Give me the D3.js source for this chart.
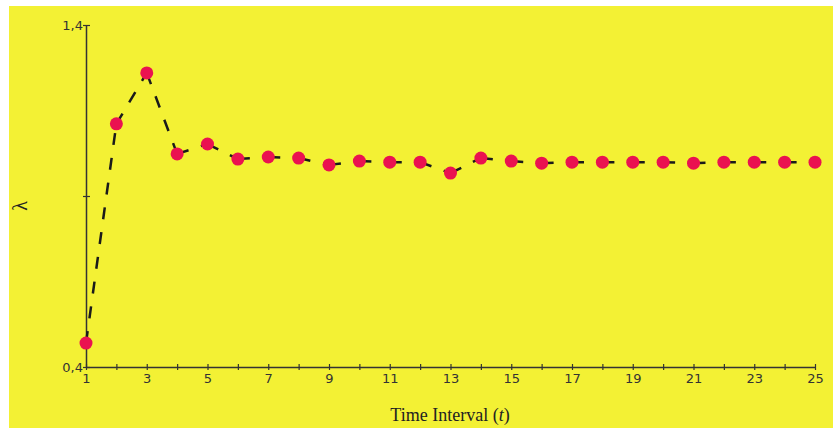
<!DOCTYPE html>
<html>
<head>
<meta charset="utf-8">
<script src="https://cdn.jsdelivr.net/npm/d3@7"></script>
<style>
  body { margin: 0; background: #fff; }
</style>
</head>
<body>
<div id="chart"></div>
<script>
// time intervals and lambda values
const intervals = d3.range(1, 26);
const lambda = [0.470, 1.111, 1.260, 1.023, 1.052, 1.008, 1.014, 1.011, 0.991, 1.002,
  0.999, 0.999, 0.967, 1.011, 1.002, 0.996, 0.999, 0.999, 0.999, 0.999,
  0.996, 0.999, 0.999, 0.999, 0.999];
const yTicks = [0.4, 0.9, 1.4];
const yTickLabels = { 0.4: "0,4", 1.4: "1,4" };
const xLabelTicks = d3.range(1, 26, 2);

const width = 833, height = 428;
const margin = { left: 86, right: 18, top: 25, bottom: 61 };

const svg = d3.select("#chart").append("svg")
  .attr("width", width).attr("height", height);

// yellow panel
svg.append("rect").attr("x", 9).attr("y", 6)
  .attr("width", width - 9).attr("height", height - 6)
  .attr("fill", "#f3f134");

const x = d3.scaleLinear().domain([1, 25]).range([margin.left, width - margin.right]);
const y = d3.scaleLinear().domain([0.4, 1.4]).range([height - margin.bottom, margin.top]);

const axisColor = "#333";
const tickFont = "DejaVu Sans, sans-serif";

// x axis
const xAxis = svg.append("g").attr("transform", `translate(0,${y(0.4)})`)
  .call(d3.axisBottom(x).tickValues(intervals).tickSize(3).tickSizeOuter(0)
    .tickFormat(d => xLabelTicks.includes(d) ? d : ""));
xAxis.select(".domain").attr("stroke", axisColor).attr("stroke-width", 1.5);
xAxis.selectAll(".tick line").attr("stroke", axisColor).attr("y1", -3).attr("stroke-width", 1.2);
xAxis.selectAll(".tick text").attr("fill", "#333").attr("y", 7)
  .style("font-family", tickFont).style("font-size", "13px");

// y axis
const yAxis = svg.append("g").attr("transform", `translate(${x(1)},0)`)
  .call(d3.axisLeft(y).tickValues(yTicks).tickSize(3).tickSizeOuter(0)
    .tickFormat(d => yTickLabels[d] || ""));
yAxis.select(".domain").attr("stroke", axisColor).attr("stroke-width", 1.5);
yAxis.selectAll(".tick line").attr("stroke", axisColor).attr("x1", 4).attr("stroke-width", 1.2);
yAxis.selectAll(".tick text").attr("fill", "#333").attr("x", -3)
  .style("font-family", tickFont).style("font-size", "13px");

// dashed segments, each restarting its dash at the point
const pts = intervals.map((t, i) => [t, lambda[i]]);
svg.append("g").selectAll("line")
  .data(d3.pairs(pts))
  .join("line")
  .attr("x1", d => x(d[0][0])).attr("y1", d => y(d[0][1]))
  .attr("x2", d => x(d[1][0])).attr("y2", d => y(d[1][1]))
  .attr("stroke", "#1a1a1a")
  .attr("stroke-width", 2.5)
  .attr("stroke-dasharray", "12,13");

// points
svg.append("g").selectAll("circle")
  .data(pts)
  .join("circle")
  .attr("cx", d => x(d[0])).attr("cy", d => y(d[1]))
  .attr("r", 6.5)
  .attr("fill", "#ea1250");

// axis titles
const xt = svg.append("text")
  .attr("x", 450).attr("y", 421)
  .attr("text-anchor", "middle")
  .attr("fill", "#222")
  .style("font-family", "Liberation Serif, serif")
  .style("font-size", "18px");
xt.append("tspan").text("Time Interval (");
xt.append("tspan").style("font-style", "italic").text("t");
xt.append("tspan").text(")");

svg.append("text")
  .attr("transform", `translate(27,${y(0.9) + 10}) rotate(-90)`)
  .attr("text-anchor", "middle")
  .attr("fill", "#222")
  .style("font-family", "Liberation Serif, serif")
  .style("font-size", "20px")
  .text("λ");
</script>
</body>
</html>
